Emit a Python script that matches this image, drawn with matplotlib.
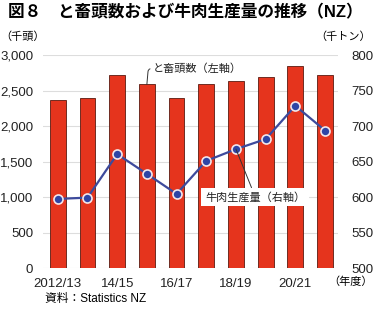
import matplotlib.pyplot as plt
import numpy as np

plt.rcParams['font.family'] = ['Liberation Sans', 'Noto Sans CJK JP']

# データ
years = ['2012/13', '13/14', '14/15', '15/16', '16/17', '17/18', '18/19', '19/20', '20/21', '21/22']
slaughter = [2370, 2398, 2722, 2586, 2394, 2595, 2638, 2684, 2849, 2712]  # 千頭
beef = [597.6, 599.4, 660.6, 632.8, 604.6, 651.1, 667.6, 681.7, 728.6, 693.8]  # 千トン
tick_idx = [0, 2, 4, 6, 8]

fig = plt.figure(figsize=(3.8, 3.09), dpi=100)
ax = fig.add_axes([0.113, 0.1317, 0.776, 0.6903])
x = np.arange(len(years))

ax.bar(x, slaughter, width=0.53, color='#E5341D', edgecolor='#5a1a10', linewidth=0.6, zorder=2)
ax.set_xlim(-0.5, 9.43)
ax.set_ylim(0, 3000)
ax.set_yticks(np.arange(0, 3001, 500))
ax.set_yticklabels(['{:,}'.format(v) for v in range(0, 3001, 500)])
ax.grid(axis='y', color='#dddddd', linewidth=0.8, zorder=0)
ax.set_xticks([x[i] for i in tick_idx])
ax.set_xticklabels([years[i] for i in tick_idx])

ax2 = ax.twinx()
ax2.plot(x, beef, color='#3d4a9c', linewidth=1.6, marker='o', markersize=6.5,
         markerfacecolor='#2e45a6', markeredgecolor='#f3e6ea', markeredgewidth=1.2, zorder=3)
ax2.set_ylim(500, 800)
ax2.set_yticks(np.arange(500, 801, 50))

for a in (ax, ax2):
    for s in a.spines.values():
        s.set_visible(False)
    a.tick_params(length=0, labelsize=9.5, colors='#222222')
ax.tick_params(axis='y', pad=7)
ax2.tick_params(axis='y', pad=10)
ax.tick_params(axis='x', pad=7)

# 注記
ax.annotate('と畜頭数（左軸）', xy=(3, slaughter[3]), xytext=(3.2, 2807),
            fontsize=8, va='center', ha='left', color='#222222',
            arrowprops=dict(arrowstyle='-', color='#333333', linewidth=0.7,
                            connectionstyle='angle,angleA=0,angleB=85,rad=3', shrinkA=0, shrinkB=0))
ax2.annotate('牛肉生産量（右軸）', xy=(6, beef[6]), xytext=(6.65, 600.4),
             fontsize=8, va='center', ha='center', color='#222222',
             bbox=dict(boxstyle='square,pad=0.35', fc='white', ec='none'),
             arrowprops=dict(arrowstyle='-', color='#333333', linewidth=0.7, shrinkA=0, shrinkB=0))

fig.text(0.02, 0.961, '図８　と畜頭数および牛肉生産量の推移（NZ）', fontsize=12, fontweight='bold', va='center', ha='left')
fig.text(0.0, 0.882, '（千頭）', fontsize=8, va='center', ha='left')
fig.text(0.975, 0.882, '（千トン）', fontsize=8, va='center', ha='right')
fig.text(0.982, 0.087, '（年度）', fontsize=8, va='center', ha='right')
fig.text(0.118, 0.032, '資料：Statistics NZ', fontsize=8.5, va='center', ha='left')

fig.savefig('out.png', dpi=100)
